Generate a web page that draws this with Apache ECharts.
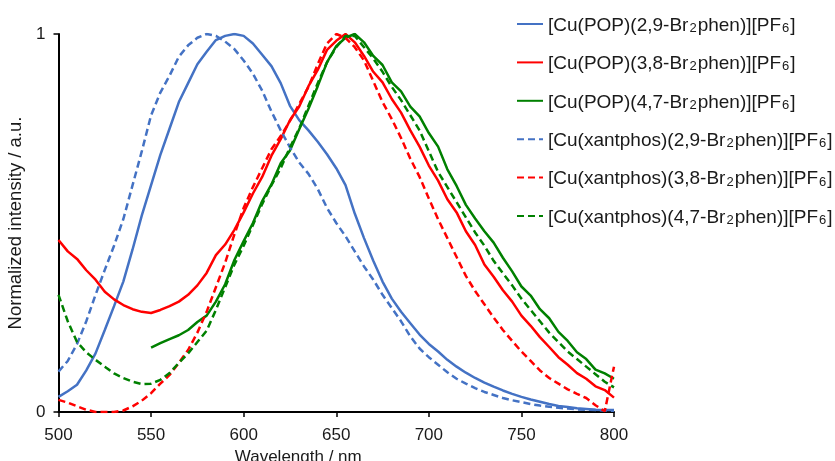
<!DOCTYPE html>
<html>
<head>
<meta charset="utf-8">
<script src="https://cdn.jsdelivr.net/npm/echarts@6/dist/echarts.min.js"></script>
<style>
    html, body { margin: 0; padding: 0; background: #fff; }
    #main { width: 835px; height: 461px; }
</style>
</head>
<body>
<div id="main"></div>
<script>
    // wavelength grid (nm)
    var wavelength = [500, 505, 510, 515, 520, 525, 530, 535, 540, 545,
        550, 555, 560, 565, 570, 575, 580, 585, 590, 595,
        600, 605, 610, 615, 620, 625, 630, 635, 640, 645,
        650, 655, 660, 665, 670, 675, 680, 685, 690, 695,
        700, 705, 710, 715, 720, 725, 730, 735, 740, 745,
        750, 755, 760, 765, 770, 775, 780, 785, 790, 795, 800];

    var names = [
        '[Cu(POP)(2,9-Br2phen)][PF6]',
        '[Cu(POP)(3,8-Br2phen)][PF6]',
        '[Cu(POP)(4,7-Br2phen)][PF6]',
        '[Cu(xantphos)(2,9-Br2phen)][PF6]',
        '[Cu(xantphos)(3,8-Br2phen)][PF6]',
        '[Cu(xantphos)(4,7-Br2phen)][PF6]'
    ];

    var popBr29 = [0.04, 0.055, 0.072, 0.11, 0.155, 0.217, 0.28, 0.345, 0.43, 0.52,
        0.60, 0.68, 0.75, 0.82, 0.87, 0.92, 0.953, 0.984, 0.995, 1.0,
        0.995, 0.975, 0.945, 0.915, 0.87, 0.81, 0.772, 0.745, 0.715, 0.682,
        0.645, 0.60, 0.525, 0.46, 0.40, 0.345, 0.30, 0.265, 0.235, 0.205,
        0.18, 0.16, 0.138, 0.12, 0.104, 0.09, 0.078, 0.067, 0.057, 0.048,
        0.04, 0.033, 0.027, 0.021, 0.016, 0.013, 0.01, 0.008, 0.006, 0.005, 0.005];

    var popBr38 = [0.455, 0.425, 0.405, 0.375, 0.35, 0.318, 0.298, 0.283, 0.272, 0.265,
        0.262, 0.27, 0.28, 0.292, 0.31, 0.335, 0.368, 0.415, 0.443, 0.482,
        0.528, 0.578, 0.622, 0.678, 0.722, 0.772, 0.808, 0.862, 0.905, 0.958,
        0.982, 1.0, 0.978, 0.942, 0.9, 0.872, 0.828, 0.792, 0.745, 0.702,
        0.652, 0.612, 0.563, 0.528, 0.478, 0.442, 0.39, 0.358, 0.322, 0.292,
        0.255, 0.228, 0.198, 0.172, 0.145, 0.125, 0.103, 0.088, 0.068, 0.058, 0.038];

    var popBr47 = [null, null, null, null, null, null, null, null, null, null,
        0.17, 0.182, 0.193, 0.203, 0.217, 0.238, 0.255, 0.292, 0.338, 0.402,
        0.452, 0.5, 0.558, 0.602, 0.658, 0.692, 0.748, 0.802, 0.862, 0.925,
        0.968, 0.99, 1.0, 0.978, 0.942, 0.918, 0.872, 0.848, 0.808, 0.782,
        0.738, 0.702, 0.642, 0.598, 0.548, 0.512, 0.478, 0.448, 0.408, 0.372,
        0.332, 0.308, 0.272, 0.248, 0.212, 0.188, 0.158, 0.14, 0.112, 0.102, 0.088];

    var xantBr29 = [0.107, 0.135, 0.18, 0.24, 0.31, 0.376, 0.44, 0.51, 0.60, 0.69,
        0.785, 0.845, 0.89, 0.94, 0.97, 0.99, 1.0, 0.995, 0.98, 0.96,
        0.93, 0.895, 0.85, 0.795, 0.745, 0.70, 0.66, 0.63, 0.59, 0.54,
        0.50, 0.465, 0.425, 0.385, 0.35, 0.31, 0.275, 0.24, 0.2, 0.168,
        0.145, 0.125, 0.105, 0.088, 0.075, 0.063, 0.053, 0.045, 0.037, 0.031,
        0.026, 0.021, 0.017, 0.014, 0.011, 0.009, 0.007, 0.006, 0.005, 0.004, 0.003];

    var xantBr38 = [0.032, 0.025, 0.015, 0.006, 0.0, 0.0, 0.0, 0.004, 0.015, 0.03,
        0.05, 0.075, 0.098, 0.13, 0.164, 0.21, 0.265, 0.33, 0.395, 0.47,
        0.54, 0.595, 0.645, 0.695, 0.73, 0.77, 0.815, 0.86, 0.92, 0.975,
        1.0, 0.99, 0.965, 0.93, 0.875, 0.82, 0.775, 0.725, 0.67, 0.622,
        0.565, 0.51, 0.46, 0.41, 0.36, 0.32, 0.285, 0.25, 0.217, 0.188,
        0.16, 0.135, 0.11, 0.09, 0.075, 0.06, 0.048, 0.037, 0.018, 0.002, 0.12];

    var xantBr47 = [0.31, 0.24, 0.185, 0.158, 0.138, 0.12, 0.102, 0.09, 0.08, 0.074,
        0.075, 0.085, 0.103, 0.13, 0.155, 0.185, 0.215, 0.27, 0.33, 0.39,
        0.44, 0.495, 0.55, 0.60, 0.645, 0.70, 0.75, 0.81, 0.87, 0.925,
        0.965, 0.995, 0.995, 0.965, 0.935, 0.90, 0.86, 0.825, 0.785, 0.745,
        0.69, 0.635, 0.595, 0.555, 0.515, 0.475, 0.44, 0.40, 0.367, 0.335,
        0.30, 0.27, 0.24, 0.21, 0.185, 0.16, 0.14, 0.12, 0.10, 0.08, 0.065];

    var xTicks = [500, 550, 600, 650, 700, 750, 800];

    var values = [popBr29, popBr38, popBr47, xantBr29, xantBr38, xantBr47];
    var colors = ['#4472C4', '#FF0000', '#008000', '#4472C4', '#FF0000', '#008000'];
    var dashed = [false, false, false, true, true, true];

    var font = 'Liberation Sans, Arial, sans-serif';
    var textColor = '#1a1a1a';

    function pairs(ys) {
        var out = [];
        for (var i = 0; i < wavelength.length; i++) {
            out.push([wavelength[i], ys[i]]);
        }
        return out;
    }

    var series = [];
    for (var k = 0; k < names.length; k++) {
        series.push({
            name: names[k],
            type: 'line',
            data: pairs(values[k]),
            symbol: 'none',
            smooth: false,
            connectNulls: false,
            lineStyle: {
                color: colors[k],
                width: 2.5,
                type: dashed[k] ? [7, 4] : 'solid'
            },
            itemStyle: { color: colors[k] },
            z: 2
        });
    }

    var chart = echarts.init(document.getElementById('main'));
    var option = {
        animation: false,
        backgroundColor: '#fff',
        textStyle: { fontFamily: font },
        grid: {
            left: 58.5,
            right: 221,
            top: 34,
            bottom: 49,
            outerBoundsMode: 'none'
        },
        legend: {
            orient: 'vertical',
            left: 511,
            top: 11,
            itemWidth: 26,
            itemHeight: 14,
            itemGap: 19.4,
            itemStyle: { opacity: 0 },   // no marker dot, only the line
            data: names,
            formatter: function (name) {
                // Br2 and PF6 carry subscripts
                var a = name.split('Br2');
                var b = a[1].split('PF6');
                return '{t|' + a[0] + 'Br}{s|2}{t|' + b[0] + 'PF}{s|6}{t|' + b[1] + '}';
            },
            textStyle: {
                fontFamily: font,
                color: textColor,
                rich: {
                    t: { fontSize: 19, lineHeight: 22, verticalAlign: 'bottom', color: textColor, fontFamily: font },
                    s: { fontSize: 13, lineHeight: 10, verticalAlign: 'bottom', padding: [0, 1, 0, 1], color: textColor, fontFamily: font }
                }
            }
        },
        xAxis: {
            type: 'value',
            min: 500,
            max: 800,
            interval: 50,
            name: 'Wavelength / nm',
            nameLocation: 'middle',
            nameGap: 35,
            nameTextStyle: {
                fontSize: 17,
                color: textColor,
                fontFamily: font,
                padding: [0, 76, 0, 0]
            },
            axisLine: { show: true, onZero: false, lineStyle: { color: '#000', width: 2 } },
            axisTick: { show: true, inside: false, length: 5, lineStyle: { color: '#000', width: 1.5 } },
            axisLabel: {
                fontSize: 17,
                color: textColor,
                margin: 15,
                fontFamily: font,
                formatter: function (v) { return xTicks.indexOf(v) >= 0 ? String(v) : ''; }
            },
            splitLine: { show: false }
        },
        yAxis: {
            type: 'value',
            min: 0,
            max: 1,
            interval: 1,
            name: 'Normalized intensity / a.u.',
            nameLocation: 'middle',
            nameGap: 32,
            nameTextStyle: { fontSize: 18.5, color: textColor, fontFamily: font },
            axisLine: { show: true, lineStyle: { color: '#000', width: 2 } },
            axisTick: { show: true, inside: false, length: 5, lineStyle: { color: '#000', width: 1.5 } },
            axisLabel: { fontSize: 17, color: textColor, margin: 13, fontFamily: font },
            splitLine: { show: false }
        },
        series: series
    };
    chart.setOption(option);
</script>
</body>
</html>
